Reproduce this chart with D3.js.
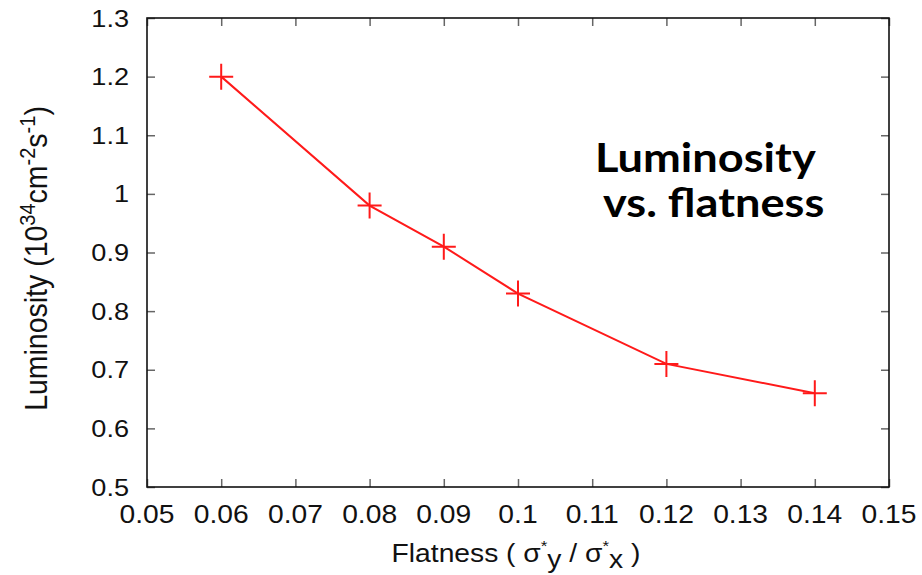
<!DOCTYPE html>
<html>
<head>
<meta charset="utf-8">
<script src="https://cdn.jsdelivr.net/npm/d3@7"></script>
<style>
  body { margin: 0; background: #fff; }
  svg { display: block; }
</style>
</head>
<body>
<svg id="canvas"></svg>
<script>
const flatness = [0.06, 0.08, 0.09, 0.10, 0.12, 0.14];
const luminosity = [1.20, 0.98, 0.91, 0.83, 0.71, 0.66];

const xTicks = [0.05, 0.06, 0.07, 0.08, 0.09, 0.10, 0.11, 0.12, 0.13, 0.14, 0.15];
const xTickLabels = ["0.05", "0.06", "0.07", "0.08", "0.09", "0.1", "0.11", "0.12", "0.13", "0.14", "0.15"];
const yTicks = [0.5, 0.6, 0.7, 0.8, 0.9, 1.0, 1.1, 1.2, 1.3];
const yTickLabels = ["0.5", "0.6", "0.7", "0.8", "0.9", "1", "1.1", "1.2", "1.3"];

const titleLines = ["Luminosity", "vs. flatness"];

const width = 922;
const height = 575;
const paddingLeft = 147;
const paddingRight = 33;
const paddingTop = 18;
const paddingBottom = 88;
const stretch = 1.13; // text in the picture is a little wider than tall

const x = d3.scaleLinear()
    .domain([0.05, 0.15])
    .range([paddingLeft, width - paddingRight]);

const y = d3.scaleLinear()
    .domain([0.5, 1.3])
    .range([height - paddingBottom, paddingTop]);

const canvas = d3.select("#canvas")
    .attr("width", width)
    .attr("height", height)
    .style("font-family", "'Liberation Sans', Arial, sans-serif");

// ticks on all four sides, pointing inward
const tickLen = 8;
const tickColor = "#666";

canvas.append("g")
    .attr("transform", `translate(0, ${height - paddingBottom})`)
    .call(d3.axisTop(x).tickValues(xTicks).tickSize(tickLen).tickFormat(""))
    .call(g => g.select(".domain").remove())
    .call(g => g.selectAll("line").attr("stroke", tickColor).attr("stroke-width", 1.5));

canvas.append("g")
    .attr("transform", `translate(0, ${paddingTop})`)
    .call(d3.axisBottom(x).tickValues(xTicks).tickSize(tickLen).tickFormat(""))
    .call(g => g.select(".domain").remove())
    .call(g => g.selectAll("line").attr("stroke", tickColor).attr("stroke-width", 1.5));

canvas.append("g")
    .attr("transform", `translate(${paddingLeft}, 0)`)
    .call(d3.axisRight(y).tickValues(yTicks).tickSize(tickLen).tickFormat(""))
    .call(g => g.select(".domain").remove())
    .call(g => g.selectAll("line").attr("stroke", tickColor).attr("stroke-width", 1.5));

canvas.append("g")
    .attr("transform", `translate(${width - paddingRight}, 0)`)
    .call(d3.axisLeft(y).tickValues(yTicks).tickSize(tickLen).tickFormat(""))
    .call(g => g.select(".domain").remove())
    .call(g => g.selectAll("line").attr("stroke", tickColor).attr("stroke-width", 1.5));

// frame
canvas.append("rect")
    .attr("x", paddingLeft)
    .attr("y", paddingTop)
    .attr("width", width - paddingLeft - paddingRight)
    .attr("height", height - paddingTop - paddingBottom)
    .attr("fill", "none")
    .attr("stroke", "#111")
    .attr("stroke-width", 1.6);

// tick labels
canvas.selectAll(".xlabel")
    .data(xTicks)
    .enter()
    .append("text")
    .attr("class", "xlabel")
    .attr("transform", d => `translate(${x(d)}, ${height - paddingBottom + 36}) scale(${stretch}, 1)`)
    .attr("text-anchor", "middle")
    .attr("font-size", 25)
    .attr("fill", "#111")
    .text((d, i) => xTickLabels[i]);

canvas.selectAll(".ylabel")
    .data(yTicks)
    .enter()
    .append("text")
    .attr("class", "ylabel")
    .attr("transform", d => `translate(${paddingLeft - 18}, ${y(d) + 8.5}) scale(${stretch}, 1)`)
    .attr("text-anchor", "end")
    .attr("font-size", 24)
    .attr("fill", "#111")
    .text((d, i) => yTickLabels[i]);

// axis titles
const xTitle = canvas.append("text")
    .attr("transform", `translate(${x(0.1) - 2}, 562) scale(${stretch}, 1)`)
    .attr("text-anchor", "middle")
    .attr("font-size", 25)
    .attr("fill", "#111");
xTitle.append("tspan").text("Flatness ( σ");
xTitle.append("tspan").attr("dy", -11).attr("font-size", 15).text("*");
xTitle.append("tspan").attr("dy", 17).text("y");
xTitle.append("tspan").attr("dy", -6).text(" / σ");
xTitle.append("tspan").attr("dy", -11).attr("font-size", 15).text("*");
xTitle.append("tspan").attr("dy", 17).text("x");
xTitle.append("tspan").attr("dy", -6).text(" )");

const yTitle = canvas.append("text")
    .attr("transform", `translate(47, ${y(0.9) + 6}) rotate(-90) scale(1, ${stretch})`)
    .attr("text-anchor", "middle")
    .attr("font-size", 28.5)
    .attr("fill", "#111");
yTitle.append("tspan").text("Luminosity (10");
yTitle.append("tspan").attr("dy", -11).attr("font-size", 20).text("34");
yTitle.append("tspan").attr("dy", 11).text("cm");
yTitle.append("tspan").attr("dy", -11).attr("font-size", 20).text("-2");
yTitle.append("tspan").attr("dy", 11).text("s");
yTitle.append("tspan").attr("dy", -11).attr("font-size", 20).text("-1");
yTitle.append("tspan").attr("dy", 11).text(")");

// series
const points = flatness.map((f, i) => [f, luminosity[i]]);

canvas.append("path")
    .datum(points)
    .attr("fill", "none")
    .attr("stroke", "#ff1a1a")
    .attr("stroke-width", 2)
    .attr("d", d3.line().x(d => x(d[0])).y(d => y(d[1])));

canvas.selectAll(".marker")
    .data(points)
    .enter()
    .append("path")
    .attr("class", "marker")
    .attr("fill", "none")
    .attr("stroke", "#ff1a1a")
    .attr("stroke-width", 2)
    .attr("d", d => `M${x(d[0]) - 12},${y(d[1])}H${x(d[0]) + 12}M${x(d[0])},${y(d[1]) - 13}V${y(d[1]) + 13}`);

// title
canvas.selectAll(".title")
    .data(titleLines)
    .enter()
    .append("text")
    .attr("class", "title")
    .attr("transform", (d, i) => `translate(${i === 0 ? 595 : 603}, ${172 + i * 45}) scale(${stretch}, 1)`)
    .attr("font-family", "Lato, 'Open Sans', sans-serif")
    .attr("font-weight", "bold")
    .attr("font-size", 40)
    .attr("fill", "#000")
    .text(d => d);
</script>
</body>
</html>
